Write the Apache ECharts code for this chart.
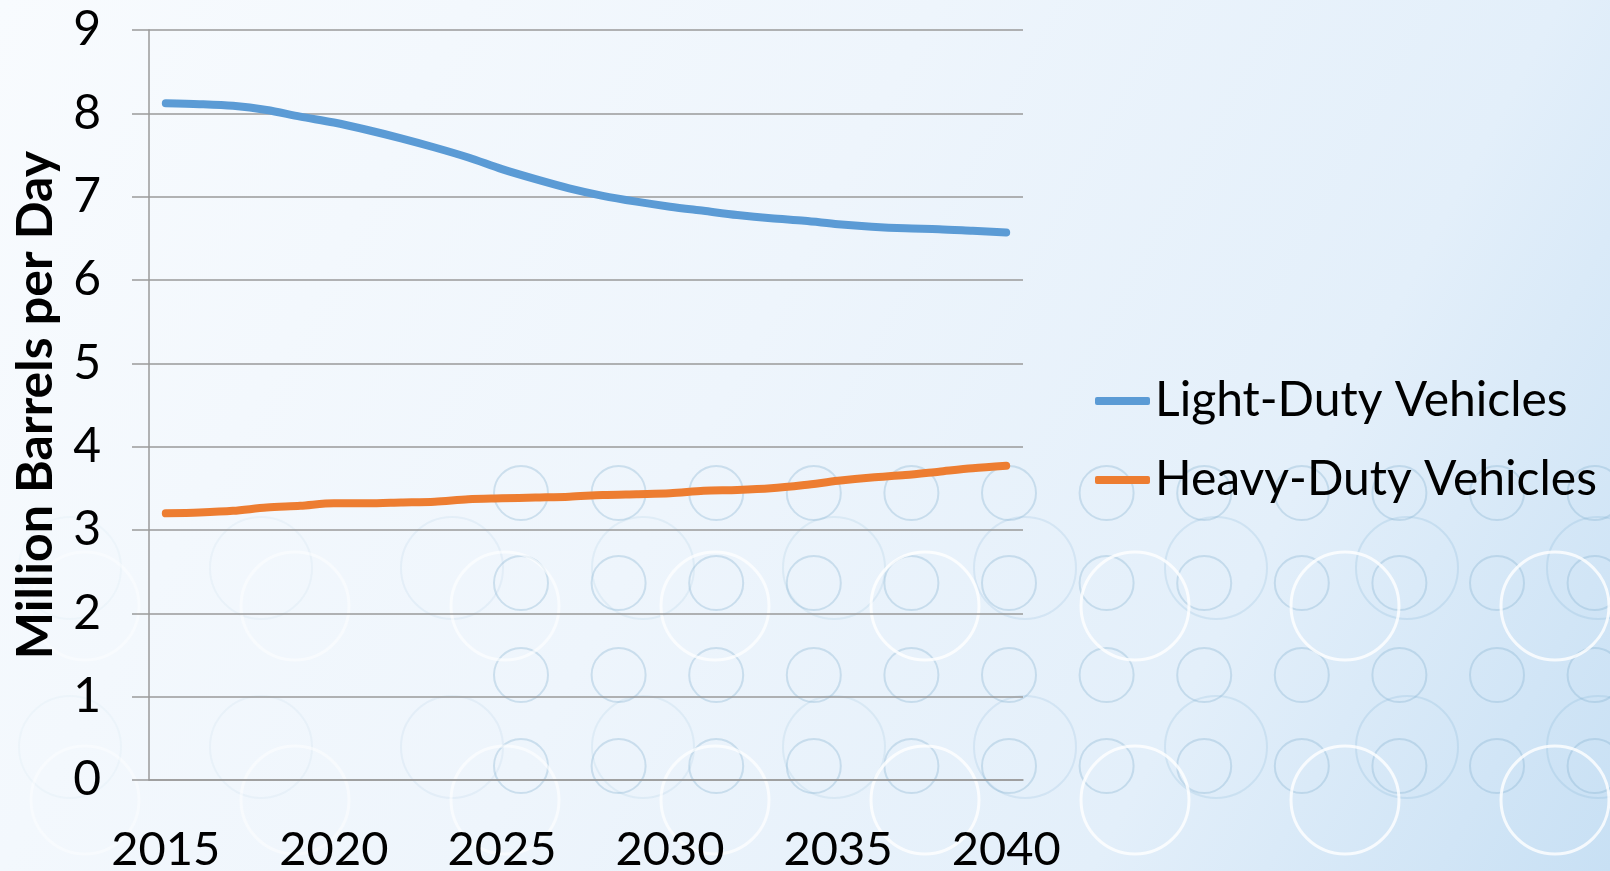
<!DOCTYPE html>
<html>
<head>
<meta charset="utf-8">
<script src="https://cdn.jsdelivr.net/npm/echarts@6/dist/echarts.min.js"></script>
<style>
  html, body { margin: 0; padding: 0; }
  #chart { width: 1610px; height: 871px; }
</style>
</head>
<body>
<div id="chart"></div>
<script>
// Projected transportation fuel use, million barrels per day
const years = ['2015','2016','2017','2018','2019','2020','2021','2022','2023','2024','2025','2026','2027',
               '2028','2029','2030','2031','2032','2033','2034','2035','2036','2037','2038','2039','2040'];
const lightDuty = [8.12, 8.11, 8.09, 8.04, 7.96, 7.89, 7.80, 7.70, 7.59, 7.47, 7.33, 7.21, 7.10,
                   7.01, 6.94, 6.88, 6.83, 6.78, 6.74, 6.71, 6.67, 6.64, 6.62, 6.61, 6.59, 6.57];
const heavyDuty = [3.20, 3.21, 3.23, 3.27, 3.29, 3.32, 3.32, 3.33, 3.34, 3.37, 3.38, 3.39, 3.40,
                   3.42, 3.43, 3.44, 3.47, 3.48, 3.50, 3.54, 3.59, 3.63, 3.66, 3.70, 3.74, 3.77];
const seriesNames = ['Light-Duty Vehicles', 'Heavy-Duty Vehicles'];
const yTicks = { min: 0, max: 9, step: 1 };

const FONT = 'Lato, "Open Sans", sans-serif';

// Decorative bubble pattern for the backdrop
function bubbles() {
  const out = [];
  const ring = (cx, cy, r, color, width) => out.push({
    type: 'circle', silent: true, z: -10,
    shape: { cx: cx, cy: cy, r: r },
    style: { fill: 'none', stroke: color, lineWidth: width }
  });
  // large faint rings
  [568, 747].forEach(cy => {
    for (let cx = 70; cx < 1680; cx += 191) {
      const a = Math.min(0.26, 0.05 + cx / 6500);
      ring(cx, cy, 51, 'rgba(140,185,215,' + a.toFixed(3) + ')', 2);
    }
  });
  // small rings
  [493, 583, 675, 766].forEach(cy => {
    for (let cx = 521; cx < 1680; cx += 97.6) {
      ring(cx, cy, 27, 'rgba(130,175,205,0.33)', 2);
    }
  });
  // white rings
  [606, 800].forEach(cy => {
    for (let cx = 85; cx < 1680; cx += 210) {
      const a = Math.min(0.8, 0.35 + cx / 2000);
      ring(cx, cy, 54, 'rgba(255,255,255,' + a.toFixed(3) + ')', 3);
    }
  });
  return out;
}

const chart = echarts.init(document.getElementById('chart'), null, { renderer: 'canvas' });
chart.setOption({
  backgroundColor: {
    type: 'linear', x: 0, y: 0, x2: 1, y2: 1,
    colorStops: [
      { offset: 0, color: '#f8fbfe' },
      { offset: 0.45, color: '#eef5fc' },
      { offset: 0.75, color: '#e3effa' },
      { offset: 1, color: '#c8e0f4' }
    ]
  },
  animation: false,
  graphic: bubbles(),
  grid: { left: 149, right: 587, top: 30, bottom: 91, containLabel: false, outerBoundsMode: 'none' },
  legend: {
    orient: 'vertical',
    left: 1090,
    top: 372,
    itemGap: 31,
    itemWidth: 55,
    itemHeight: 8,
    icon: 'roundRect',
    textStyle: { fontFamily: FONT, fontSize: 48, color: '#000', padding: [0, 0, 0, 0] },
    data: seriesNames
  },
  xAxis: {
    type: 'category',
    data: years,
    boundaryGap: true,
    axisLine: { lineStyle: { color: '#9a9a9a', width: 1.5 } },
    axisTick: { interval: 0, length: 17, lineStyle: { color: '#9a9a9a', width: 1.5 } },
    axisLabel: { interval: 4, fontFamily: FONT, fontSize: 47, color: '#000', margin: 46 },
    splitLine: { show: false }
  },
  yAxis: {
    type: 'value',
    min: yTicks.min, max: yTicks.max, interval: yTicks.step,
    name: 'Million Barrels per Day',
    nameLocation: 'middle',
    nameGap: 88,
    nameRotate: 90,
    nameTextStyle: { fontFamily: FONT, fontSize: 50, fontWeight: 'bold', color: '#000' },
    axisLine: { show: true, lineStyle: { color: '#9a9a9a', width: 1.5 } },
    axisTick: { show: true, length: 17, lineStyle: { color: '#9a9a9a', width: 1.5 } },
    axisLabel: { fontFamily: FONT, fontSize: 48, color: '#000', margin: 48 },
    splitLine: { lineStyle: { color: '#9a9a9a', width: 1.5 } }
  },
  series: [
    {
      name: seriesNames[0], type: 'line', data: lightDuty, smooth: 0.3,
      symbol: 'none', color: '#5b9bd5',
      lineStyle: { width: 8, cap: 'round', join: 'round' }
    },
    {
      name: seriesNames[1], type: 'line', data: heavyDuty, smooth: 0.3,
      symbol: 'none', color: '#ed7d31',
      lineStyle: { width: 8, cap: 'round', join: 'round' }
    }
  ]
});
</script>
</body>
</html>
